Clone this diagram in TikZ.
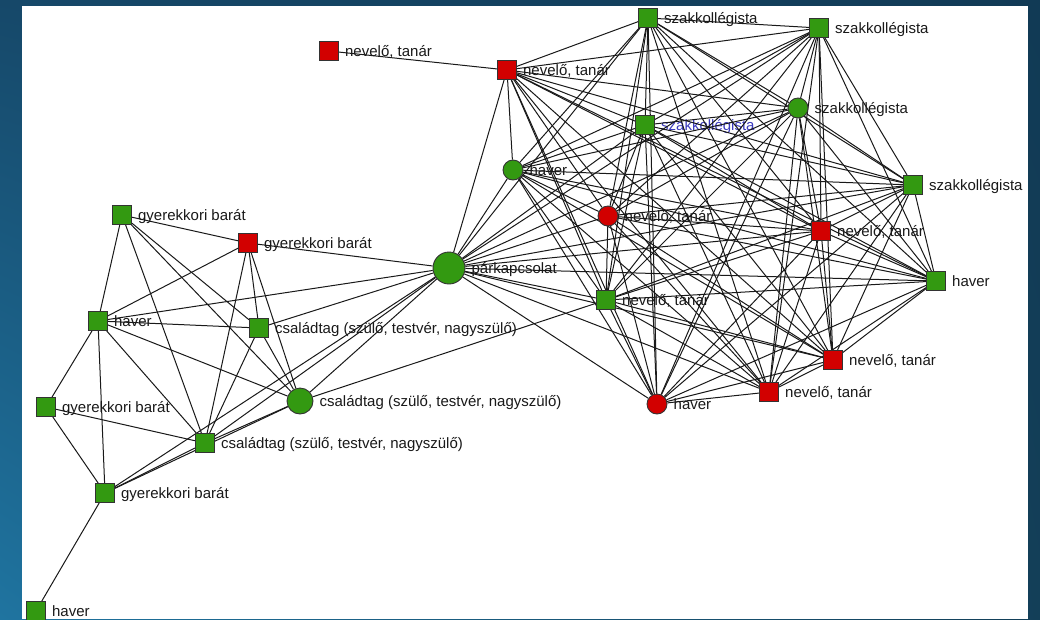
\documentclass[tikz,border=0pt]{standalone}
\usepackage{fontspec}
\setmainfont{Liberation Sans}
\usetikzlibrary{shadings}
\pgfdeclarelayer{bg}
\pgfdeclarelayer{lab}
\pgfdeclarelayer{edges}
\pgfsetlayers{bg,lab,edges,main}
\definecolor{nodegreen}{RGB}{51,153,17}
\definecolor{nodered}{RGB}{210,0,0}
\definecolor{labelgray}{RGB}{25,25,25}
\definecolor{labelblue}{RGB}{60,60,190}
\definecolor{bgUL}{RGB}{22,72,105}
\definecolor{bgUR}{RGB}{17,58,85}
\definecolor{bgLL}{RGB}{31,116,160}
\definecolor{bgLR}{RGB}{19,63,88}
\begin{document}
\begin{tikzpicture}[x=1pt,y=-1pt,
  sq/.style={rectangle,draw=black!80,line width=0.9pt,minimum size=19pt,inner sep=0pt},
  smallc/.style={circle,draw=black!80,line width=0.9pt,minimum size=20pt,inner sep=0pt},
  gr/.style={fill=nodegreen},
  rd/.style={fill=nodered},
  lbl/.style={anchor=base west,inner sep=0pt,font=\fontsize{15}{18}\selectfont,text=labelgray,xshift=6pt,yshift=-5.5pt},
  edge/.style={draw=black!90,line width=1pt}]
\begin{pgfonlayer}{bg}
\shade[upper left=bgUL,upper right=bgUR,lower left=bgLL,lower right=bgLR] (0,0) rectangle (1040,619);
\fill[white] (22,6) rectangle (1028,619);
\end{pgfonlayer}
\useasboundingbox (0,0) rectangle (1040,619);
% nodes
\node[sq,rd] (A) at (329,51) {};
\node[sq,rd] (B) at (507,70) {};
\node[sq,gr] (C) at (648,18) {};
\node[sq,gr] (D) at (819,28) {};
\node[smallc,gr] (E) at (798,108) {};
\node[sq,gr] (F) at (645,125) {};
\node[smallc,gr] (G) at (513,170) {};
\node[sq,gr] (H) at (913,185) {};
\node[smallc,rd] (I) at (608,216) {};
\node[sq,rd] (J) at (821,231) {};
\node[circle,draw=black!80,line width=0.9pt,minimum size=32pt,inner sep=0pt,gr] (K) at (449,268) {};
\node[sq,gr] (L) at (936,281) {};
\node[sq,gr] (M) at (606,300) {};
\node[sq,rd] (N) at (833,360) {};
\node[sq,rd] (O) at (769,392) {};
\node[smallc,rd] (P) at (657,404) {};
\node[sq,gr] (Q) at (122,215) {};
\node[sq,rd] (R) at (248,243) {};
\node[sq,gr] (S) at (98,321) {};
\node[sq,gr] (T) at (259,328) {};
\node[circle,draw=black!80,line width=0.9pt,minimum size=26pt,inner sep=0pt,gr] (U) at (300,401) {};
\node[sq,gr] (V) at (46,407) {};
\node[sq,gr] (W) at (205,443) {};
\node[sq,gr] (X) at (105,493) {};
\node[sq,gr] (Y) at (36,611) {};
% labels
\begin{pgfonlayer}{lab}
\node[lbl] (lA) at (A.east) {nevelő, tanár};
\node[lbl] (lB) at (B.east) {nevelő, tanár};
\node[lbl] (lC) at (C.east) {szakkollégista};
\node[lbl] (lD) at (D.east) {szakkollégista};
\node[lbl] (lE) at (E.east) {szakkollégista};
\node[lbl,text=labelblue] (lF) at (F.east) {szakkollégista};
\node[lbl] (lG) at (G.east) {haver};
\node[lbl] (lH) at (H.east) {szakkollégista};
\node[lbl] (lI) at (I.east) {nevelő, tanár};
\node[lbl] (lJ) at (J.east) {nevelő, tanár};
\node[lbl] (lK) at (K.east) {párkapcsolat};
\node[lbl] (lL) at (L.east) {haver};
\node[lbl] (lM) at (M.east) {nevelő, tanár};
\node[lbl] (lN) at (N.east) {nevelő, tanár};
\node[lbl] (lO) at (O.east) {nevelő, tanár};
\node[lbl] (lP) at (P.east) {haver};
\node[lbl] (lQ) at (Q.east) {gyerekkori barát};
\node[lbl] (lR) at (R.east) {gyerekkori barát};
\node[lbl] (lS) at (S.east) {haver};
\node[lbl] (lT) at (T.east) {családtag (szülő, testvér, nagyszülő)};
\node[lbl] (lU) at (U.east) {családtag (szülő, testvér, nagyszülő)};
\node[lbl] (lV) at (V.east) {gyerekkori barát};
\node[lbl] (lW) at (W.east) {családtag (szülő, testvér, nagyszülő)};
\node[lbl] (lX) at (X.east) {gyerekkori barát};
\node[lbl] (lY) at (Y.east) {haver};
\end{pgfonlayer}
% edges
\begin{pgfonlayer}{edges}
\foreach \a/\i in {B/1,C/2,D/3,E/4,F/5,G/6,H/7,I/8,J/9,K/10,L/11,M/12,N/13,O/14,P/15}{
  \foreach \b/\j in {B/1,C/2,D/3,E/4,F/5,G/6,H/7,I/8,J/9,K/10,L/11,M/12,N/13,O/14,P/15}{
    \ifnum\i<\j \draw[edge] (\a) -- (\b); \fi
  }
}
\foreach \a/\b in {A/B,Q/R,Q/S,Q/W,Q/T,Q/U,R/K,R/S,R/T,R/W,R/U,S/K,S/T,S/U,S/W,S/V,S/X,
  T/K,T/U,T/W,U/K,U/M,U/W,U/X,W/K,X/K,W/V,W/X,V/X,X/Y}{
  \draw[edge] (\a) -- (\b);
}
\end{pgfonlayer}
\end{tikzpicture}
\end{document}
